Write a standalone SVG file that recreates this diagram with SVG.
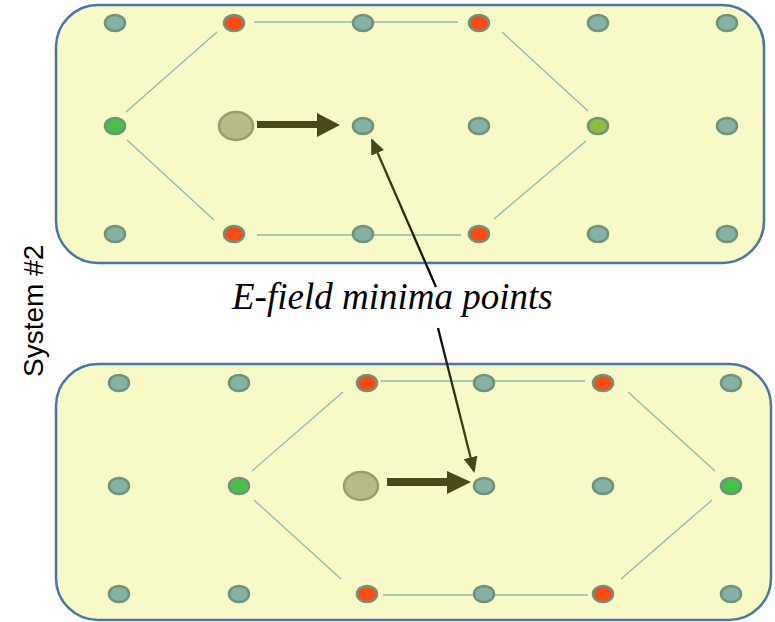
<svg xmlns="http://www.w3.org/2000/svg" width="775" height="622" viewBox="0 0 775 622">
<style>
.panel{fill:#f7f9c6;stroke:#4a75a5;stroke-width:2.5}
.dot{stroke:#6f9279;stroke-width:2.5}
.t{fill:#86b2a6}
.r{fill:#f84c14}
.g{fill:#45c14a}
.yg{fill:#90bd40}
.ion{fill:#b8bb88;stroke:#9c9d68;stroke-width:2.5}
.link{stroke:#8fbab2;stroke-width:1.3;fill:none}
.move{fill:#4a4a17}
.note{stroke-width:2.3;fill:none;marker-end:url(#head)}
.lbl{font-family:"Liberation Serif","Times New Roman",serif;font-style:italic;font-size:37px;fill:#000}
.side{font-family:"Liberation Sans",Arial,sans-serif;font-size:28px;fill:#000}
</style>
<defs>
<marker id="head" markerUnits="userSpaceOnUse" markerWidth="17" markerHeight="15" refX="14" refY="7" orient="auto">
<path d="M0,0 L16,7 L0,14 Z" fill="#47481a"/>
</marker>
<linearGradient id="gUp" gradientUnits="userSpaceOnUse" x1="436" y1="287" x2="372" y2="140">
<stop offset="0" stop-color="#000"/><stop offset="0.45" stop-color="#2a2a10"/><stop offset="1" stop-color="#47481a"/>
</linearGradient>
<linearGradient id="gDown" gradientUnits="userSpaceOnUse" x1="438" y1="328" x2="474" y2="471">
<stop offset="0" stop-color="#000"/><stop offset="0.3" stop-color="#2a2a10"/><stop offset="1" stop-color="#47481a"/>
</linearGradient>
</defs>

<g id="panel-top"><rect class="panel" x="56" y="5" width="708" height="258" rx="42" ry="42"/></g>
<g id="panel-bottom"><rect class="panel" x="56" y="364" width="715" height="256" rx="42" ry="42"/></g>

<g id="connectors">
<line class="link" x1="254" y1="22" x2="458" y2="22"/>
<line class="link" x1="257" y1="235" x2="461" y2="235"/>
<line class="link" x1="217" y1="32" x2="126" y2="112"/>
<line class="link" x1="127" y1="140" x2="214" y2="220"/>
<line class="link" x1="502" y1="32" x2="588" y2="111"/>
<line class="link" x1="586" y1="141" x2="494" y2="219"/>
<line class="link" x1="381" y1="381" x2="585" y2="381"/>
<line class="link" x1="383" y1="595" x2="588" y2="595"/>
<line class="link" x1="343" y1="392" x2="252" y2="471"/>
<line class="link" x1="254" y1="500" x2="341" y2="579"/>
<line class="link" x1="628" y1="392" x2="715" y2="471"/>
<line class="link" x1="712" y1="500" x2="621" y2="579"/>
<line class="note" x1="436" y1="287" x2="372" y2="140" stroke="url(#gUp)"/>
<line class="note" x1="438" y1="328" x2="474" y2="471" stroke="url(#gDown)"/>
</g>

<g id="top-nodes">
<g id="t-r1c1"><ellipse class="dot t" cx="115" cy="23" rx="10" ry="8"/></g>
<g id="t-r1c2"><ellipse class="dot r" cx="234" cy="23" rx="10" ry="8"/></g>
<g id="t-r1c3"><ellipse class="dot t" cx="363" cy="23" rx="10" ry="8"/></g>
<g id="t-r1c4"><ellipse class="dot r" cx="479" cy="23" rx="10" ry="8"/></g>
<g id="t-r1c5"><ellipse class="dot t" cx="598" cy="23" rx="10" ry="8"/></g>
<g id="t-r1c6"><ellipse class="dot t" cx="727" cy="23" rx="10" ry="8"/></g>
<g id="t-r2c1"><ellipse class="dot g" cx="115" cy="126" rx="10" ry="8"/></g>
<g id="t-r2c3"><ellipse class="dot t" cx="363" cy="126" rx="10" ry="8"/></g>
<g id="t-r2c4"><ellipse class="dot t" cx="479" cy="126" rx="10" ry="8"/></g>
<g id="t-r2c5"><ellipse class="dot yg" cx="598" cy="126" rx="10" ry="8"/></g>
<g id="t-r2c6"><ellipse class="dot t" cx="727" cy="126" rx="10" ry="8"/></g>
<g id="t-r3c1"><ellipse class="dot t" cx="115" cy="234" rx="10" ry="8"/></g>
<g id="t-r3c2"><ellipse class="dot r" cx="234" cy="234" rx="10" ry="8"/></g>
<g id="t-r3c3"><ellipse class="dot t" cx="363" cy="234" rx="10" ry="8"/></g>
<g id="t-r3c4"><ellipse class="dot r" cx="479" cy="234" rx="10" ry="8"/></g>
<g id="t-r3c5"><ellipse class="dot t" cx="598" cy="234" rx="10" ry="8"/></g>
<g id="t-r3c6"><ellipse class="dot t" cx="727" cy="234" rx="10" ry="8"/></g>
<g id="t-ion"><ellipse class="ion" cx="236" cy="126" rx="17" ry="14"/></g>
<g id="t-move"><polygon class="move" points="257,121 317,121 317,113 340,125 317,137 317,128 257,128"/></g>
</g>

<g id="bottom-nodes">
<g id="b-r1c1"><ellipse class="dot t" cx="119" cy="383" rx="10" ry="8"/></g>
<g id="b-r1c2"><ellipse class="dot t" cx="239" cy="383" rx="10" ry="8"/></g>
<g id="b-r1c3"><ellipse class="dot r" cx="367" cy="383" rx="10" ry="8"/></g>
<g id="b-r1c4"><ellipse class="dot t" cx="484" cy="383" rx="10" ry="8"/></g>
<g id="b-r1c5"><ellipse class="dot r" cx="603" cy="383" rx="10" ry="8"/></g>
<g id="b-r1c6"><ellipse class="dot t" cx="731" cy="383" rx="10" ry="8"/></g>
<g id="b-r2c1"><ellipse class="dot t" cx="119" cy="486" rx="10" ry="8"/></g>
<g id="b-r2c2"><ellipse class="dot g" cx="239" cy="486" rx="10" ry="8"/></g>
<g id="b-r2c4"><ellipse class="dot t" cx="484" cy="486" rx="10" ry="8"/></g>
<g id="b-r2c5"><ellipse class="dot t" cx="603" cy="486" rx="10" ry="8"/></g>
<g id="b-r2c6"><ellipse class="dot g" cx="731" cy="486" rx="10" ry="8"/></g>
<g id="b-r3c1"><ellipse class="dot t" cx="119" cy="594" rx="10" ry="8"/></g>
<g id="b-r3c2"><ellipse class="dot t" cx="239" cy="594" rx="10" ry="8"/></g>
<g id="b-r3c3"><ellipse class="dot r" cx="367" cy="594" rx="10" ry="8"/></g>
<g id="b-r3c4"><ellipse class="dot t" cx="484" cy="594" rx="10" ry="8"/></g>
<g id="b-r3c5"><ellipse class="dot r" cx="603" cy="594" rx="10" ry="8"/></g>
<g id="b-r3c6"><ellipse class="dot t" cx="731" cy="594" rx="10" ry="8"/></g>
<g id="b-ion"><ellipse class="ion" cx="361" cy="486" rx="17" ry="14"/></g>
<g id="b-move"><polygon class="move" points="387,478 447,478 447,471 471,482 447,494 447,486 387,486"/></g>
</g>

<g id="label-minima"><text class="lbl" x="232" y="309">E-field minima points</text></g>
<g id="label-system"><text class="side" transform="translate(43,377) rotate(-90)">System #2</text></g>
</svg>
